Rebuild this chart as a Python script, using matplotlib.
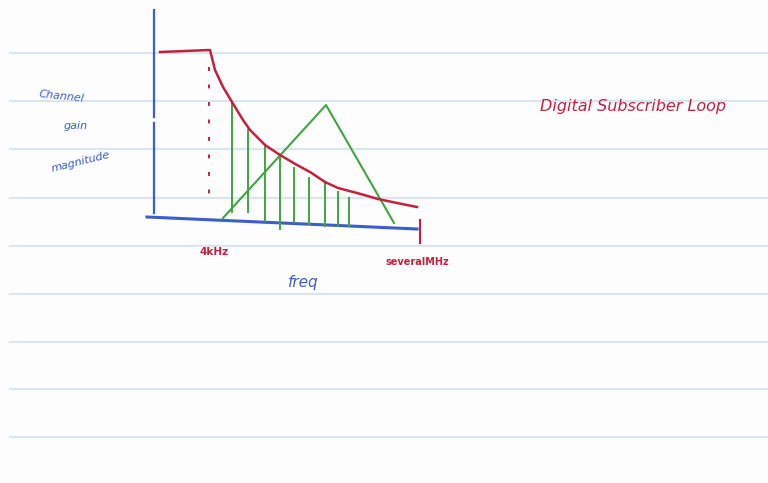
import matplotlib.pyplot as plt

# ruled lines of the notebook page
ruled_y = [53, 101, 149, 198, 246, 294, 342, 389, 437]

# red channel gain curve (flat, then decaying)
gain_x = [160, 185, 210, 215, 223, 232, 243, 250, 265, 280, 297, 310, 325, 338, 357, 378, 397, 417]
gain_y = [52, 51, 50, 70, 87, 102, 120, 130, 145, 155, 165, 172, 182, 188, 193, 199, 203, 207]

# blue axes
yaxis_x = [154, 154]
yaxis_top = [10, 117]
yaxis_bot = [123, 213]
xaxis_x = [147, 417]
xaxis_y = [217, 229]

# red cut-off markers
cutoff_x = [209, 209]
cutoff_y = [67, 205]
tick_x = [420, 420]
tick_y = [220, 243]

# green triangle (signal spectrum)
tri_x = [223, 326, 394]
tri_y = [218, 105, 223]

# green hatching under the curve
hatch_x = [232, 248, 265, 280, 294, 309, 325, 338, 349]
hatch_top = [101, 129, 145, 155, 167, 177, 183, 191, 197]
hatch_bot = [213, 213, 222, 230, 223, 225, 227, 227, 227]

blue = "#3b5fc8"
red = "#c4203c"
green = "#3fa53f"

fig = plt.figure(figsize=(7.68, 4.83), dpi=100, facecolor="#fdfdfe")
ax = fig.add_axes([0, 0, 1, 1])
ax.set_xlim(0, 768)
ax.set_ylim(483, 0)
ax.axis("off")

for y in ruled_y:
    ax.plot([10, 768], [y, y], color="#dbe5ee", lw=1.6, zorder=0)

ax.plot(yaxis_x, yaxis_top, color=blue, lw=1.6)
ax.plot(yaxis_x, yaxis_bot, color=blue, lw=1.6)
ax.plot(xaxis_x, xaxis_y, color=blue, lw=2.2)

ax.vlines(hatch_x, hatch_top, hatch_bot, color=green, lw=1.4)
ax.plot(tri_x, tri_y, color=green, lw=1.5)

ax.plot(gain_x, gain_y, color=red, lw=1.8, solid_joinstyle="round")
ax.plot(cutoff_x, cutoff_y, color=red, lw=1.4, ls=(0, (2, 7)))
ax.plot(tick_x, tick_y, color=red, lw=1.5)

ax.text(38, 96, "Channel", color=blue, fontsize=8, rotation=-6, ha="left", va="center", style="italic")
ax.text(64, 126, "gain", color=blue, fontsize=8, ha="left", va="center", style="italic")
ax.text(50, 162, "magnitude", color=blue, fontsize=8, rotation=14, ha="left", va="center", style="italic")
ax.text(200, 252, "4kHz", color=red, fontsize=7.5, ha="left", va="center", fontweight="bold")
ax.text(386, 262, "severalMHz", color=red, fontsize=7, ha="left", va="center", fontweight="bold")
ax.text(288, 283, "freq", color=blue, fontsize=11, ha="left", va="center", style="italic")
ax.text(540, 107, "Digital Subscriber Loop", color=red, fontsize=11.5, ha="left", va="center", style="italic")

fig.savefig("out.png", dpi=100, facecolor=fig.get_facecolor())
